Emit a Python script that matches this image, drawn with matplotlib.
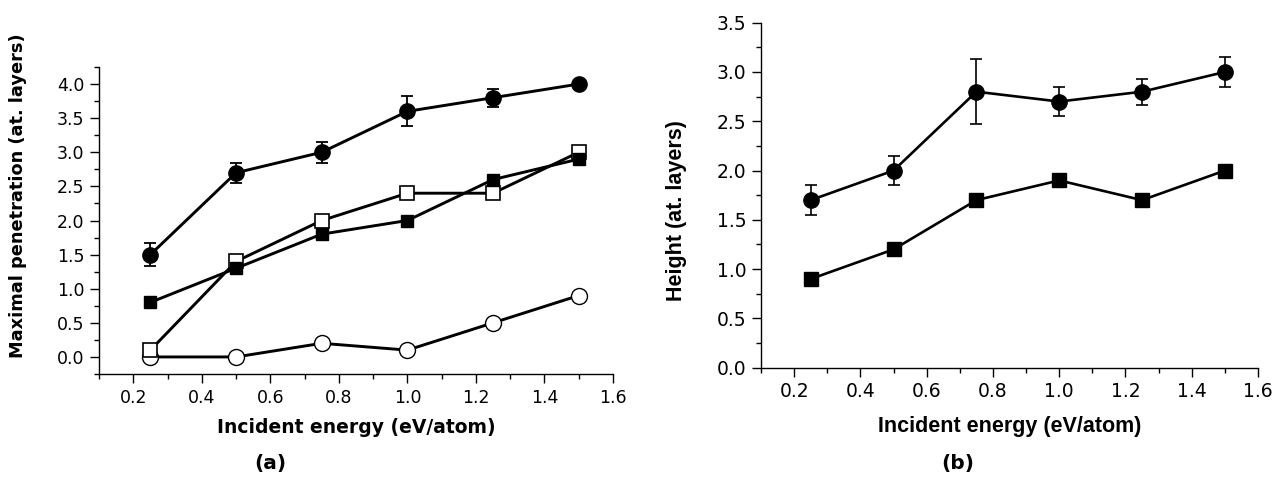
import matplotlib
matplotlib.use("Agg")
import matplotlib.pyplot as plt
from matplotlib.ticker import MultipleLocator, FormatStrFormatter

plt.rcParams['font.family'] = ['DejaVu Sans']

energy = [0.25, 0.5, 0.75, 1.0, 1.25, 1.5]

# Panel (a)
a_filled_circle = [1.5, 2.7, 3.0, 3.6, 3.8, 4.0]
a_filled_circle_err = [0.17, 0.15, 0.15, 0.22, 0.13, 0.0]
a_filled_square = [0.8, 1.3, 1.8, 2.0, 2.6, 2.9]
a_open_square = [0.1, 1.4, 2.0, 2.4, 2.4, 3.0]
a_open_circle = [0.0, 0.0, 0.2, 0.1, 0.5, 0.9]

# Panel (b)
b_circle = [1.7, 2.0, 2.8, 2.7, 2.8, 3.0]
b_circle_err = [0.15, 0.15, 0.33, 0.15, 0.13, 0.15]
b_square = [0.9, 1.2, 1.7, 1.9, 1.7, 2.0]

W, H = 1283, 484
fig = plt.figure(figsize=(W / 100, H / 100), dpi=100)
axa = fig.add_axes([99 / W, 1 - 374 / H, 514 / W, 307 / H])
axb = fig.add_axes([761 / W, 1 - 367.7 / H, 497 / W, 345 / H])

# (a)
lw_a = 2.1
axa.plot(energy, a_open_circle, '-', color='black', lw=lw_a, marker='o', ms=11.5,
         mfc='white', mec='black', mew=1.0, zorder=2)
axa.plot(energy, a_open_square, '-', color='black', lw=lw_a, marker='s', ms=10,
         mfc='white', mec='black', mew=1.2, zorder=3)
axa.plot(energy, a_filled_square, '-', color='black', lw=lw_a, marker='s', ms=8.5,
         mfc='black', mec='black', zorder=4)
axa.errorbar(energy, a_filled_circle, yerr=a_filled_circle_err, fmt='-o', color='black',
             lw=lw_a, ms=11, elinewidth=1.3, capsize=4, capthick=1.3, zorder=5)

axa.set_xlim(0.1, 1.6)
axa.set_ylim(-0.25, 4.25)
axa.set_yticks([0.0, 0.5, 1.0, 1.5, 2.0, 2.5, 3.0, 3.5, 4.0])
axa.set_xlabel('Incident energy (eV/atom)', fontsize=13.5, fontweight='bold',
               family='DejaVu Sans', va='top')
axa.set_ylabel('Maximal penetration (at. layers)', fontsize=12.8, fontweight='bold',
               family='DejaVu Sans')
axa.xaxis.set_label_coords(0.5, -0.143)
axa.yaxis.set_label_coords(-0.14, 0.58)

# (b)
lw_b = 1.9
axb.plot(energy, b_square, '-', color='black', lw=lw_b, marker='s', ms=9.5,
         mfc='black', mec='black', zorder=3)
axb.errorbar(energy, b_circle, yerr=b_circle_err, fmt='-o', color='black',
             lw=lw_b, ms=11, elinewidth=1.2, capsize=4, capthick=1.2, zorder=4)
axb.set_xlim(0.1, 1.6)
axb.set_ylim(0.0, 3.5)
axb.set_yticks([0.0, 0.5, 1.0, 1.5, 2.0, 2.5, 3.0, 3.5])
axb.set_xlabel('Incident energy (eV/atom)', fontsize=15.5, fontweight='bold',
               family='Liberation Sans', va='top')
axb.set_ylabel('Height (at. layers)', fontsize=15.5, fontweight='bold',
               family='Liberation Sans')
axb.xaxis.set_label_coords(0.5, -0.14)
axb.yaxis.set_label_coords(-0.149, 0.455)

for ax, ls in ((axa, 12.5), (axb, 13.5)):
    ax.spines['top'].set_visible(False)
    ax.spines['right'].set_visible(False)
    for s in ('left', 'bottom'):
        ax.spines[s].set_linewidth(1.0)
    ax.set_xticks([0.2, 0.4, 0.6, 0.8, 1.0, 1.2, 1.4, 1.6])
    ax.xaxis.set_minor_locator(MultipleLocator(0.1))
    ax.yaxis.set_minor_locator(MultipleLocator(0.25))
    ax.tick_params(axis='both', which='major', direction='out', length=6.5, width=1.0,
                   labelsize=ls, pad=4)
    ax.tick_params(axis='both', which='minor', direction='out', length=3.5, width=1.0)
    ax.xaxis.set_major_formatter(FormatStrFormatter('%.1f'))
    ax.yaxis.set_major_formatter(FormatStrFormatter('%.1f'))

fig.text(270 / W, 1 - 463 / H, '(a)', ha='center', va='center', fontsize=14.5, fontweight='bold')
fig.text(958 / W, 1 - 463 / H, '(b)', ha='center', va='center', fontsize=14.5, fontweight='bold')

fig.savefig('out.png', dpi=100)
